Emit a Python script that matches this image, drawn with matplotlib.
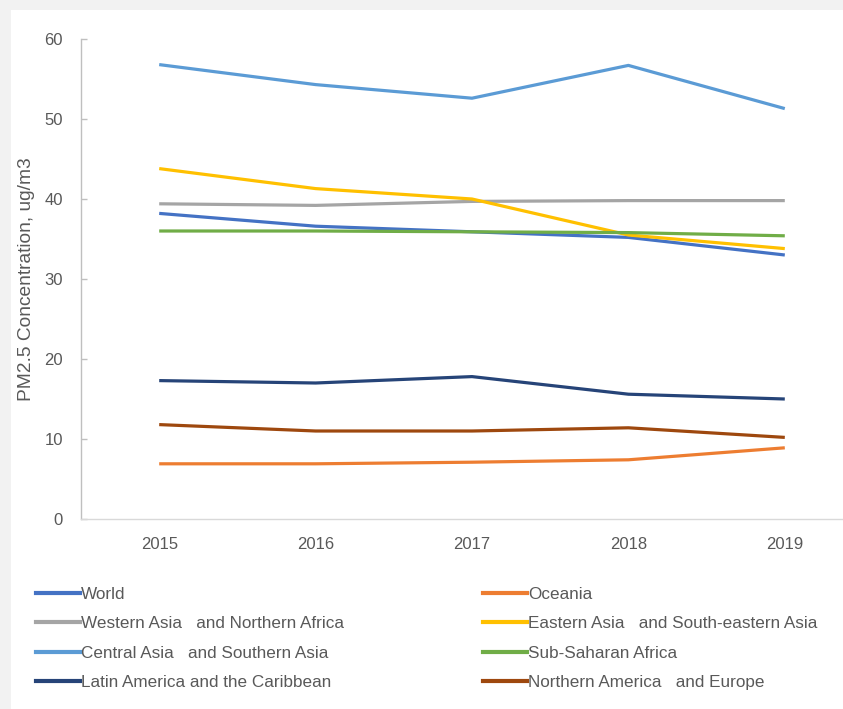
import matplotlib
matplotlib.use("Agg")
import matplotlib.pyplot as plt
from matplotlib.lines import Line2D
from matplotlib.patches import Rectangle

years = ["2015", "2016", "2017", "2018", "2019"]

world = [38.2, 36.6, 35.9, 35.2, 33.0]
oceania = [6.9, 6.9, 7.1, 7.4, 8.9]
western_asia_n_africa = [39.4, 39.2, 39.7, 39.8, 39.8]
eastern_se_asia = [43.8, 41.3, 40.0, 35.5, 33.8]
central_s_asia = [56.8, 54.3, 52.6, 56.7, 51.3]
sub_saharan = [36.0, 36.0, 35.9, 35.8, 35.4]
latin_america = [17.3, 17.0, 17.8, 15.6, 15.0]
n_america_europe = [11.8, 11.0, 11.0, 11.4, 10.2]

series = [
    ("World", world, "#4472C4"),
    ("Oceania", oceania, "#ED7D31"),
    ("Western Asia   and Northern Africa", western_asia_n_africa, "#A5A5A5"),
    ("Eastern Asia   and South-eastern Asia", eastern_se_asia, "#FFC000"),
    ("Central Asia   and Southern Asia", central_s_asia, "#5B9BD5"),
    ("Sub-Saharan Africa", sub_saharan, "#70AD47"),
    ("Latin America and the Caribbean", latin_america, "#264478"),
    ("Northern America   and Europe", n_america_europe, "#9E480E"),
]

y_ticks = [0, 10, 20, 30, 40, 50, 60]
y_label = "PM2.5 Concentration, ug/m3"

TEXT = "#595959"
FONT = ["Liberation Sans", "DejaVu Sans"]
plt.rcParams["font.family"] = FONT

W, H = 843, 709
fig = plt.figure(figsize=(W / 100, H / 100), dpi=100, facecolor="#F2F2F2")
# white chart area behind everything
fig.patches.append(Rectangle((11 / W, 0), 1, 1 - 10 / H, transform=fig.transFigure,
                             facecolor="white", edgecolor="none", zorder=-10))

# plot area: x from 81 px to 863 px (right edge runs past the figure), y 39..519 px
left, right = 81 / W, 863 / W
top, bottom = 1 - 39 / H, 1 - 519 / H
ax = fig.add_axes([left, bottom, right - left, top - bottom], zorder=5)
ax.set_facecolor("none")

x = list(range(len(years)))
lines = {}
for name, vals, color in series:
    (ln,) = ax.plot(x, vals, color=color, lw=2.3, solid_capstyle="butt",
                    solid_joinstyle="round")
    lines[name] = ln

ax.set_xlim(-0.5, len(years) - 0.5)
ax.set_ylim(0, 60)
ax.set_xticks(x)
ax.set_xticklabels(years)
ax.set_yticks(y_ticks)

for s in ["top", "right"]:
    ax.spines[s].set_visible(False)
ax.spines["left"].set_color("#BFBFBF")
ax.spines["bottom"].set_color("#D9D9D9")
ax.spines["left"].set_linewidth(1.0)
ax.spines["bottom"].set_linewidth(1.0)

ax.tick_params(axis="y", direction="in", length=4.5, width=1, color="#BFBFBF",
               labelcolor=TEXT, labelsize=12, pad=13)
ax.tick_params(axis="x", length=0, labelcolor=TEXT, labelsize=12, pad=13)

fig.text(27 / W, 1 - 279 / H, y_label, rotation=90, ha="center", va="center",
         color=TEXT, fontsize=13.8)

# legend in two columns
col1 = ["World", "Western Asia   and Northern Africa", "Central Asia   and Southern Asia",
        "Latin America and the Caribbean"]
col2 = ["Oceania", "Eastern Asia   and South-eastern Asia", "Sub-Saharan Africa",
        "Northern America   and Europe"]
for names, xpx in [(col1, 36), (col2, 483)]:
    handles = [Line2D([], [], color=lines[n].get_color(), lw=3.0) for n in names]
    leg = fig.legend(handles, names, loc="upper left",
                     bbox_to_anchor=(xpx / W, 1 - 587 / H), frameon=False,
                     fontsize=12.3, handlelength=2.55, handletextpad=0.1,
                     labelspacing=0.84, borderaxespad=0, borderpad=0)
    for t in leg.get_texts():
        t.set_color(TEXT)

fig.savefig("out.png", dpi=100, facecolor=fig.get_facecolor())
